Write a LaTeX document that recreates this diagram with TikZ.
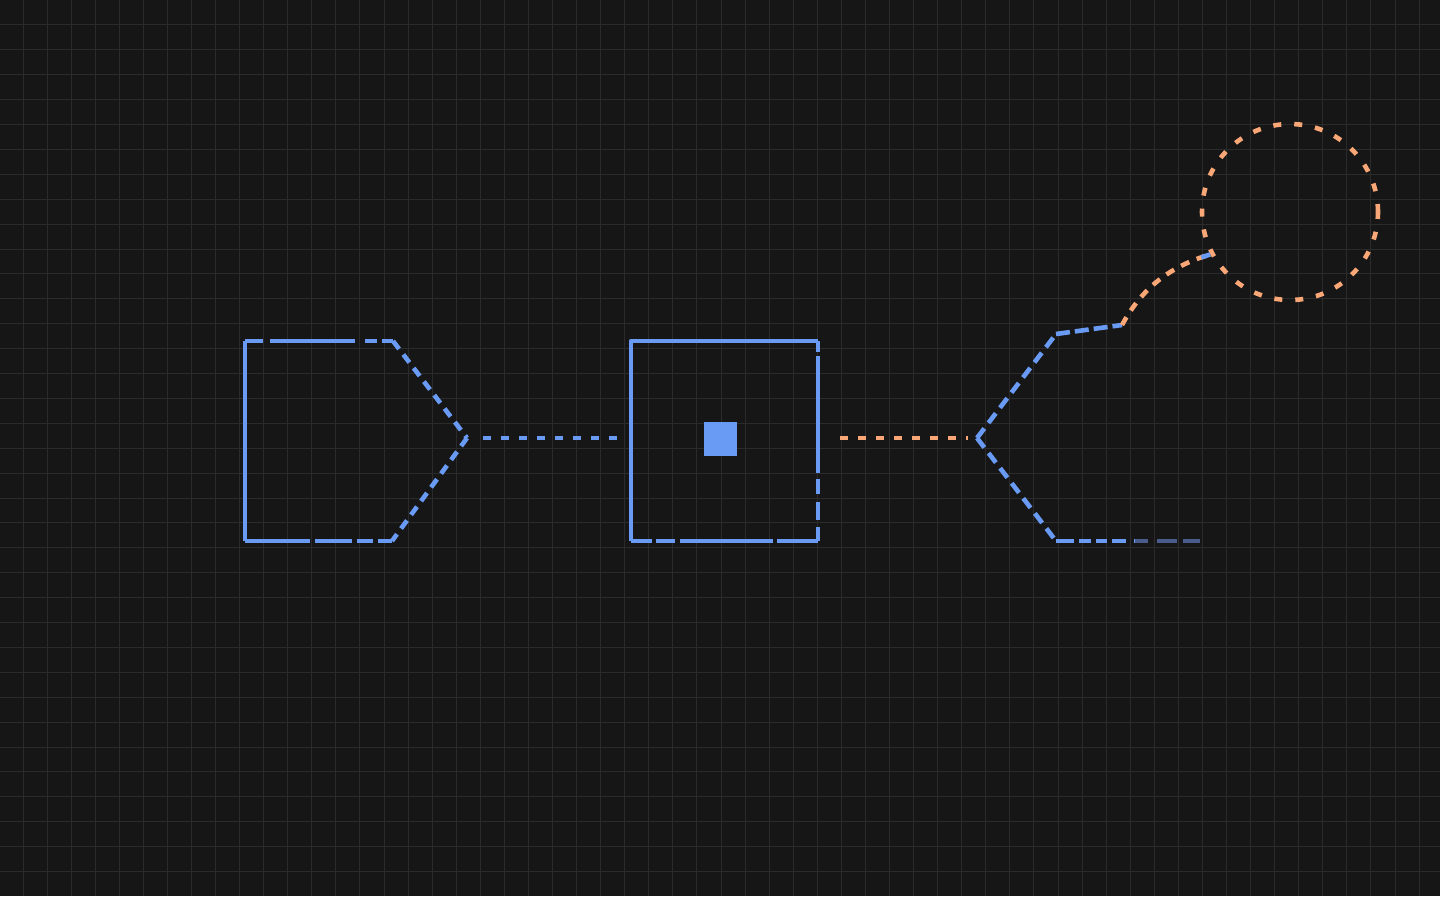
\documentclass[tikz,border=0pt]{standalone}
\usetikzlibrary{calc}
\definecolor{bg}{HTML}{161616}
\definecolor{gridc}{HTML}{2B2B2B}
\definecolor{bl}{HTML}{6A9BF4}
\definecolor{bldim}{HTML}{4A5C8C}
\definecolor{orc}{HTML}{F9A777}
\tikzset{
  bstroke/.style={draw=bl,line width=2.3pt,line join=round},
  ostroke/.style={draw=orc,line width=2.3pt,line join=round},
  gridline/.style={draw=gridc,line width=0.5pt},
  fine/.style={dash pattern=on 5pt off 3.5pt},
  conn/.style={dash pattern=on 4.2pt off 4.8pt},
}
\begin{document}
\begin{tikzpicture}[x=0.5pt,y=-0.5pt]
\fill[bg] (0,0) rectangle (1440,896);
\useasboundingbox (0,0) rectangle (1440,896);
% grid
\foreach \k in {0,...,58} {
  \draw[gridline] ({23+24.07*\k},0) -- ({23+24.07*\k},896);
}
\foreach \k in {1,...,35} {
  \draw[gridline] (0,{24.9*\k}) -- (1440,{24.9*\k});
}
% ---------- left pentagon ----------
\coordinate (Ltl) at (245,341);
\coordinate (Ltr) at (393,341);
\coordinate (Ltip) at (467,438);
\coordinate (Lbr) at (392,541);
\coordinate (Lbl) at (245,541);
\draw[bstroke] (Ltl) -- (Lbl);
\draw[bstroke,dash pattern=on 9pt off 3.5pt on 42.5pt off 5pt on 6pt off 2.5pt on 6pt off 10pt] (Ltl) -- (Ltr);
\draw[bstroke,fine] (Ltr) -- (Ltip);
\draw[bstroke,fine] (Ltip) -- (Lbr);
\draw[bstroke,dash pattern=on 32.5pt off 2.5pt on 18.5pt off 2.5pt on 8pt off 2.5pt on 7pt off 10pt] (Lbl) -- (Lbr);
% ---------- middle square ----------
\coordinate (Mtl) at (631,341);
\coordinate (Mtr) at (818,341);
\coordinate (Mbr) at (818,541);
\coordinate (Mbl) at (631,541);
\coordinate (Ml) at (631,438);
\coordinate (Mr) at (818,438);
\draw[bstroke] (Mbl) -- (Mtl) -- (Mtr);
\draw[bstroke,dash pattern=on 5.5pt off 2pt on 58.5pt off 3pt on 7.5pt off 4pt on 9pt off 3.5pt on 7pt off 10pt] (Mtr) -- (Mbr);
\draw[bstroke,dash pattern=on 10.5pt off 2pt on 9.5pt off 2.5pt on 46.5pt off 2pt on 20.5pt off 10pt] (Mbl) -- (Mbr);
\fill[bl] (704,422) rectangle (737,456);
% ---------- right open pentagon ----------
\coordinate (Rtip) at (977,438);
\coordinate (Rtc) at (1056,334);
\coordinate (Rbc) at (1056,541);
\coordinate (Rk) at (1122,325);
\coordinate (Rmid) at (1135,541);
\coordinate (Rend) at (1200,541);
\draw[bstroke,dash pattern=on 6pt off 3.5pt] (Rtip) -- (Rtc);
\draw[bstroke,dash pattern=on 6pt off 3.5pt] (Rtip) -- (Rbc);
\draw[bstroke,dash pattern=on 7pt off 2.5pt] (Rtc) -- (Rk);
\draw[bstroke,dash pattern=on 9pt off 2.5pt on 6pt off 2.5pt on 5.5pt off 2.5pt on 7pt off 4pt] (Rbc) -- (Rmid);
\draw[draw=bldim,line width=2.3pt,dash pattern=on 6.5pt off 4.5pt on 10pt off 3pt on 8.5pt off 10pt] (Rmid) -- (Rend);
% ---------- circle ----------
\node[circle,ostroke,dash pattern=on 4pt off 6.5pt,minimum size=88pt,inner sep=0pt] (circ) at (1290,212) {};
% ---------- connectors ----------
\draw[bstroke,conn,shorten <=8pt,shorten >=6pt] (Ltip) -- (Ml);
\draw[ostroke,conn,shorten <=11pt,shorten >=4.5pt] (Mr) -- (Rtip);
\draw[ostroke,dash pattern=on 4.5pt off 4pt] (Rk) .. controls (1140,292) and (1165,268) .. (circ.208);
\coordinate (Cb) at ($(circ.208)+(-9,3)$);
\draw[bstroke] (Cb) -- (circ.208);
\end{tikzpicture}
\end{document}
